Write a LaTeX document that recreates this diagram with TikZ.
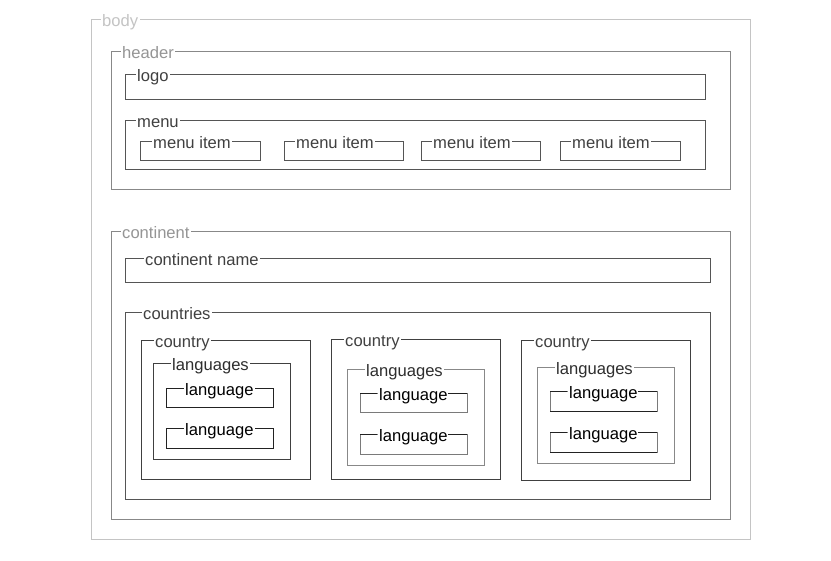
\documentclass[tikz,border=0pt]{standalone}
\usepackage{fontspec}
\setmainfont{Liberation Sans}
\definecolor{bodyc}{HTML}{C4C4C4}
\definecolor{midline}{HTML}{888888}
\definecolor{midtext}{HTML}{959595}
\definecolor{darkline}{HTML}{555555}
\definecolor{darktext}{HTML}{404040}
\definecolor{langtext}{HTML}{2E2E2E}
\definecolor{blackline}{HTML}{222222}
\definecolor{sidegray}{HTML}{7A7A7A}
\tikzset{
  legend/.style={anchor=base west, fill=white, inner xsep=1.5pt, inner ysep=0pt,
    font=\fontsize{16.6}{19}\selectfont},
  frame/.style={line width=1pt}
}
% #1 name, #2 x1, #3 y1, #4 x2, #5 y2, #6 label, #7 offset, #8 line colour, #9 text colour
\newcommand\fset[9]{%
  \draw[frame, draw=#8] (#2,#3) rectangle (#4,#5);
  \node[legend, text=#9] (#1) at ({#2+#7-1.5},{#3+6.3}) {#6};
}
\begin{document}
\begin{tikzpicture}[x=1pt,y=-1pt]
\useasboundingbox (0,0) rectangle (831,561);
\fset{body}{91}{20}{750}{540}{body}{11}{bodyc}{bodyc}
\fset{header}{111}{52}{730}{190}{header}{11}{midline}{midtext}
\fset{logo}{125}{75}{705}{100}{logo}{12}{darkline}{darktext}
\fset{menu}{125}{121}{705}{170}{menu}{12}{darkline}{darktext}
\fset{mi1}{140}{142}{260}{161}{menu item}{13}{darkline}{darktext}
\fset{mi2}{284}{142}{403}{161}{menu item}{12}{darkline}{darktext}
\fset{mi3}{421}{142}{540}{161}{menu item}{12}{darkline}{darktext}
\fset{mi4}{560}{142}{680}{161}{menu item}{12}{darkline}{darktext}
\fset{continent}{111}{232}{730}{520}{continent}{11}{midline}{midtext}
\fset{cname}{125}{259}{710}{283}{continent name}{20}{darkline}{darktext}
\fset{countries}{125}{313}{710}{500}{countries}{18}{darkline}{darktext}
% country 1
\fset{country1}{141}{341}{310}{480}{country}{14}{darktext}{darktext}
\fset{langs1}{153}{364}{290}{460}{languages}{19}{darktext}{langtext}
\fset{lang1a}{166}{389}{273}{408}{language}{19}{blackline}{black}
\fset{lang1b}{166}{429}{273}{449}{language}{19}{blackline}{black}
% country 2
\fset{country2}{331}{340}{500}{480}{country}{14}{darktext}{darktext}
\fset{langs2}{347}{370}{484}{466}{languages}{19}{midline}{langtext}
\fset{lang2a}{360}{394}{467}{413}{language}{19}{sidegray}{black}
\draw[frame, draw=blackline] (360,394) -- (377,394) (448,394) -- (467,394);
\fset{lang2b}{360}{435}{467}{455}{language}{19}{sidegray}{black}
\draw[frame, draw=blackline] (360,435) -- (377,435) (448,435) -- (467,435);
% country 3
\fset{country3}{521}{341}{690}{481}{country}{14}{darktext}{darktext}
\fset{langs3}{537}{368}{674}{464}{languages}{19}{midline}{langtext}
\fset{lang3a}{550}{392}{657}{412}{language}{19}{sidegray}{black}
\draw[frame, draw=blackline] (550,392) -- (567,392) (638,392) -- (657,392) (550,412) -- (657,412);
\fset{lang3b}{550}{433}{657}{453}{language}{19}{sidegray}{black}
\draw[frame, draw=blackline] (550,433) -- (567,433) (638,433) -- (657,433) (550,453) -- (657,453);
\end{tikzpicture}
\end{document}
